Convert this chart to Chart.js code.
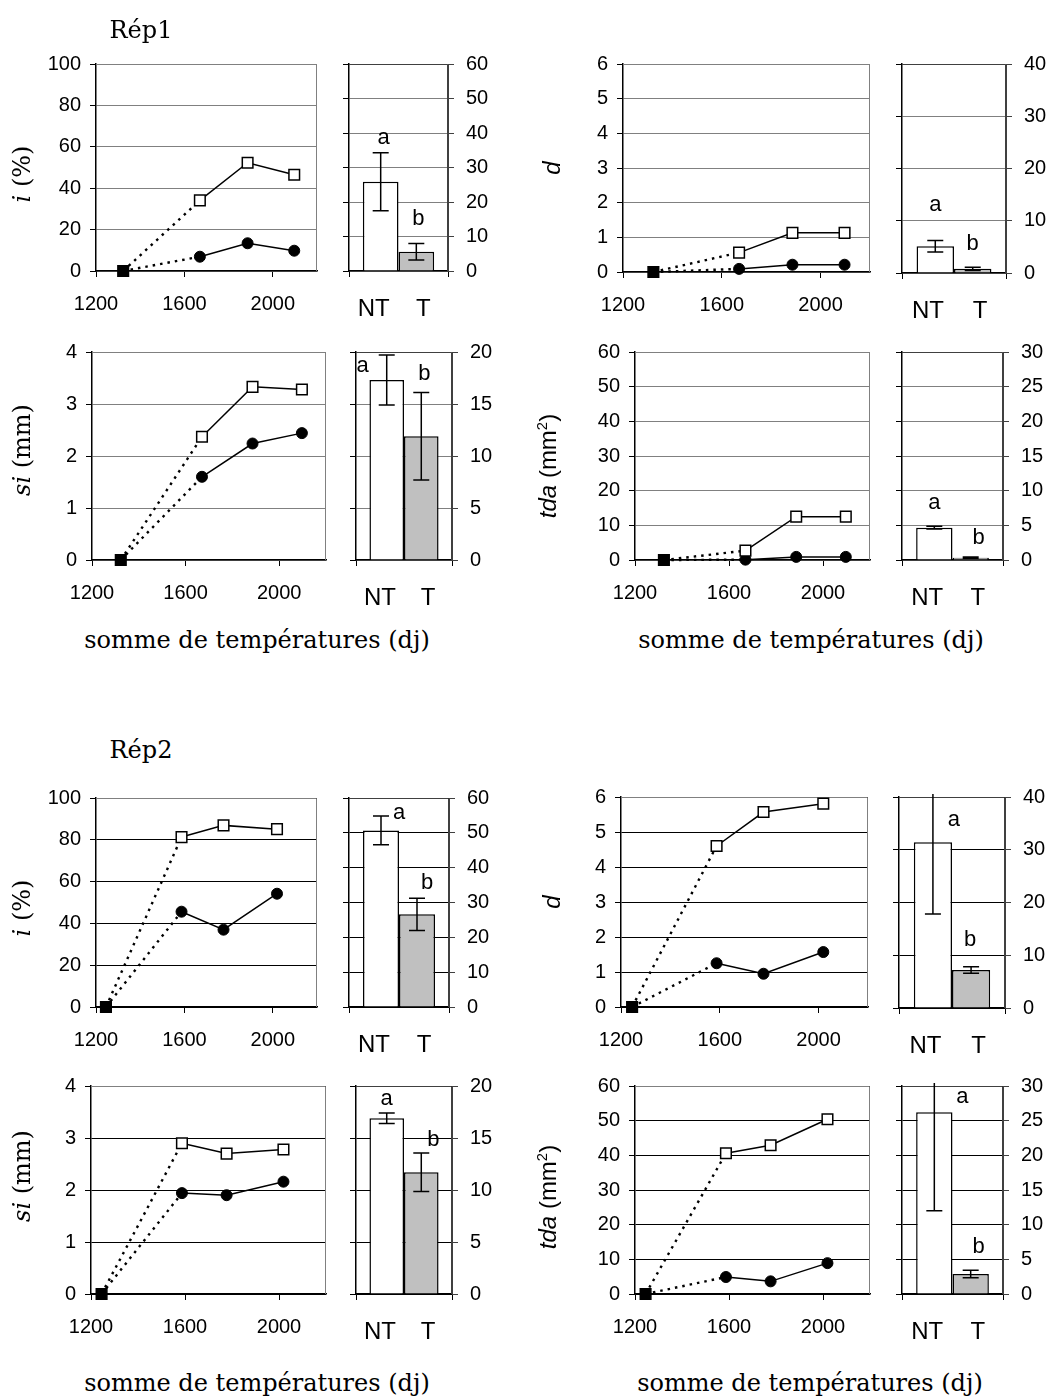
<!DOCTYPE html>
<html>
<head>
<meta charset="utf-8">
<script src="https://cdn.jsdelivr.net/npm/chart.js@4.4.0/dist/chart.umd.min.js"></script>
<style>
body { margin: 0; background: #fff; }
#page { position: relative; width: 1055px; height: 1396px; overflow: hidden; background: #fff; }
canvas { position: absolute; }
.txt { position: absolute; white-space: nowrap; color: #000; transform: translate(-50%, -50%); }
.rot { transform: translate(-50%, -50%) rotate(-90deg); }
.serif { font-family: 'DejaVu Serif', serif; font-size: 24px; }
.sans { font-family: 'Liberation Sans', Arial, sans-serif; font-size: 24px; }
sup { font-size: 0.62em; vertical-align: 0.6em; line-height: 0; }
</style>
</head>
<body>
<div id="page"></div>
<script>
// days (somme de temperatures) for each repetition
const days1 = [1323, 1670, 1886, 2097];
const days2 = [1245, 1587, 1777, 2019];

// Rep1 curves : NT (open squares) and T (filled circles)
const i1NT = [0, 34.1, 52.3, 46.5];
const i1T = [0, 6.9, 13.4, 9.8];
const d1NT = [0, 0.56, 1.13, 1.13];
const d1T = [0, 0.09, 0.21, 0.21];
const si1NT = [0, 2.37, 3.33, 3.28];
const si1T = [0, 1.6, 2.24, 2.44];
const tda1NT = [0, 2.7, 12.5, 12.5];
const tda1T = [0, 0.1, 0.9, 0.9];

// Rep2 curves
const i2NT = [0, 81.3, 86.9, 85.1];
const i2T = [0, 45.6, 37.0, 54.2];
const d2NT = [0, 4.6, 5.57, 5.81];
const d2T = [0, 1.25, 0.95, 1.57];
const si2NT = [0, 2.9, 2.7, 2.78];
const si2T = [0, 1.94, 1.9, 2.16];
const tda2NT = [0, 40.6, 42.9, 50.4];
const tda2T = [0, 4.9, 3.65, 8.9];

// bar panels : [NT, T] means and error
const groups = ['NT', 'T'];
const letters = ['a', 'b'];
const i1Bars = [25.9, 5.6], i1Err = [8.4, 2.4];
const d1Bars = [5.1, 0.8], d1Err = [1.1, 0.3];
const si1Bars = [17.3, 11.9], si1Err = [2.4, 4.2];
const tda1Bars = [4.66, 0.34], tda1Err = [0.2, 0.1];
const i2Bars = [50.7, 26.6], i2Err = [4.1, 4.65];
const d2Bars = [31.4, 7.2], d2Err = [13.6, 0.6];
const si2Bars = [16.9, 11.7], si2Err = [0.5, 1.85];
const tda2Bars = [26.2, 2.88], tda2Err = [14.2, 0.55];

const page = document.getElementById('page');
const tickFont = { family: "'Liberation Sans', Arial, sans-serif", size: 20 };

// plot frame (top + right border)
const frame = {
    id: 'frame',
    beforeDatasetsDraw(chart, args, opts) {
        const a = chart.chartArea, ctx = chart.ctx;
        ctx.save();
        ctx.strokeStyle = opts.color || '#808080';
        ctx.lineWidth = 1;
        ctx.beginPath();
        ctx.moveTo(a.left, a.top + 0.5);
        ctx.lineTo(a.right - 0.5, a.top + 0.5);
        ctx.lineTo(a.right - 0.5, a.bottom);
        ctx.stroke();
        ctx.restore();
    }
};

// error bars + significance letters
const errorBars = {
    id: 'errorBars',
    afterDatasetsDraw(chart, args, opts) {
        const ctx = chart.ctx, y = chart.scales.y, a = chart.chartArea;
        ctx.save();
        ctx.beginPath();
        ctx.rect(a.left, a.top - 3, a.right - a.left, a.bottom - a.top + 3);
        ctx.clip();
        ctx.strokeStyle = '#000';
        ctx.lineWidth = 1.5;
        chart.data.datasets.forEach((ds, i) => {
            const bar = chart.getDatasetMeta(i).data[0];
            const v = ds.data[0], e = ds.err;
            const yt = y.getPixelForValue(v + e), yb = y.getPixelForValue(v - e);
            ctx.beginPath();
            ctx.moveTo(bar.x, yt); ctx.lineTo(bar.x, yb);
            ctx.moveTo(bar.x - 8, yt); ctx.lineTo(bar.x + 8, yt);
            ctx.moveTo(bar.x - 8, yb); ctx.lineTo(bar.x + 8, yb);
            ctx.stroke();
        });
        ctx.restore();
        ctx.save();
        ctx.fillStyle = '#000';
        ctx.font = "22px 'Liberation Sans', Arial, sans-serif";
        ctx.textAlign = 'center';
        ctx.textBaseline = 'middle';
        chart.data.datasets.forEach((ds, i) => {
            const bar = chart.getDatasetMeta(i).data[0];
            const p = opts.pos[i];
            ctx.fillText(ds.letter, bar.x + p[0], y.getPixelForValue(p[1]));
        });
        ctx.restore();
    }
};

function lineChart(p) {
    const padL = 70, padT = 30, padR = 14, padB = 60;
    const [l, r, t, b] = p.line;
    const cv = document.createElement('canvas');
    cv.width = r - l + padL + padR;
    cv.height = b - t + padT + padB;
    cv.style.left = (l - padL) + 'px';
    cv.style.top = (t - padT) + 'px';
    page.appendChild(cv);

    const dotted = {
        borderDash: ctx => ctx.p0DataIndex === 0 ? [2.5, 5] : undefined,
        borderWidth: ctx => ctx.p0DataIndex === 0 ? 2.4 : undefined
    };

    new Chart(cv, {
        type: 'line',
        data: {
            datasets: [{
                data: p.days.map((d, k) => ({ x: d, y: p.nt[k] })),
                borderColor: '#000',
                borderWidth: 1.5,
                pointStyle: 'rect',
                pointRadius: 7.5,
                pointBorderWidth: 1.5,
                pointBorderColor: '#000',
                pointBackgroundColor: p.days.map((d, k) => k === 0 ? '#000' : '#fff'),
                segment: dotted,
                clip: false
            }, {
                data: p.days.map((d, k) => ({ x: d, y: p.t[k] })),
                borderColor: '#000',
                borderWidth: 1.5,
                pointStyle: 'circle',
                pointRadius: p.days.map((d, k) => k === 0 ? 0 : 5.5),
                pointBorderWidth: 1,
                pointBorderColor: '#000',
                pointBackgroundColor: '#000',
                segment: dotted,
                clip: false
            }]
        },
        options: {
            responsive: false,
            animation: false,
            devicePixelRatio: 1,
            layout: { padding: { left: 0, top: padT, right: padR, bottom: 0 } },
            plugins: { legend: { display: false }, tooltip: { enabled: false }, frame: { color: '#808080' } },
            scales: {
                x: {
                    type: 'linear', min: 1200, max: 2200,
                    ticks: { stepSize: 400, includeBounds: false, font: tickFont, color: '#000', padding: 15, maxRotation: 0,
                             callback: v => String(v) },
                    grid: { drawOnChartArea: false, tickLength: 6, tickColor: '#000' },
                    border: { color: '#000', width: 1.5 },
                    afterFit: s => { s.height = padB; }
                },
                y: {
                    min: 0, max: p.ymax,
                    ticks: { stepSize: p.ystep, font: tickFont, color: '#000', padding: 9 },
                    grid: { color: p.grid, tickLength: 6, tickColor: '#000', lineWidth: 1 },
                    border: { color: '#000', width: 1.5 },
                    afterFit: s => { s.width = padL; }
                }
            }
        },
        plugins: [frame]
    });
}

function barChart(p) {
    const padL = 26, padT = 30, padR = 62, padB = 62;
    const [l, r, t, b] = p.bar;
    const cv = document.createElement('canvas');
    cv.width = r - l + padL + padR;
    cv.height = b - t + padT + padB;
    cv.style.left = (l - padL) + 'px';
    cv.style.top = (t - padT) + 'px';
    page.appendChild(cv);

    new Chart(cv, {
        type: 'bar',
        data: {
            labels: [''],
            datasets: [{
                data: [p.bars[0]], err: p.err[0], letter: letters[0],
                backgroundColor: '#fff', borderColor: '#000', borderWidth: 1.5,
                xAxisID: 'x', yAxisID: 'y'
            }, {
                data: [p.bars[1]], err: p.err[1], letter: letters[1],
                backgroundColor: '#c0c0c0', borderColor: '#000', borderWidth: 1.5,
                xAxisID: 'x', yAxisID: 'y'
            }]
        },
        options: {
            responsive: false,
            animation: false,
            devicePixelRatio: 1,
            categoryPercentage: 0.72,
            barPercentage: 1,
            layout: { padding: { left: 0, top: padT, right: 0, bottom: 0 } },
            plugins: {
                legend: { display: false }, tooltip: { enabled: false },
                frame: { color: '#404040' },
                errorBars: { pos: p.letters }
            },
            scales: {
                x: {
                    type: 'category', offset: true, weight: 0,
                    ticks: { display: false },
                    grid: { drawOnChartArea: false, tickLength: 6, tickColor: '#000', offset: true },
                    border: { color: '#000', width: 1.5 },
                    afterFit: s => { s.height = 6; }
                },
                xl: {
                    type: 'category', labels: groups, offset: true, position: 'bottom', weight: 1,
                    ticks: { font: { family: tickFont.family, size: 24 }, color: '#000', padding: 18 },
                    grid: { display: false, drawTicks: false },
                    border: { display: false },
                    afterFit: s => { s.height = padB - 6; }
                },
                y: {
                    position: 'left', min: 0, max: p.bmax,
                    ticks: { display: false, stepSize: p.bstep },
                    grid: { color: p.grid, tickLength: 6, tickColor: '#000' },
                    border: { color: '#000', width: 1.5 },
                    afterFit: s => { s.width = padL; }
                },
                yr: {
                    position: 'right', min: 0, max: p.bmax,
                    ticks: { stepSize: p.bstep, font: tickFont, color: '#000', padding: 12 },
                    grid: { drawOnChartArea: false, tickLength: 6, tickColor: '#404040' },
                    border: { color: '#404040', width: 1 },
                    afterFit: s => { s.width = padR; }
                }
            }
        },
        plugins: [frame, errorBars]
    });
}

const panels = [
    { days: days1, nt: i1NT, t: i1T, ymax: 100, ystep: 20, bars: i1Bars, err: i1Err, bmax: 60, bstep: 10,
      line: [96, 317, 64, 271], bar: [349, 448, 64, 271], grid: '#808080', letters: [[3, 38.5], [2, 15]] },
    { days: days1, nt: d1NT, t: d1T, ymax: 6, ystep: 1, bars: d1Bars, err: d1Err, bmax: 40, bstep: 10,
      line: [623, 870, 64, 272], bar: [902, 1006, 64, 273], grid: '#808080', letters: [[0, 13], [0, 5.6]] },
    { days: days1, nt: si1NT, t: si1T, ymax: 4, ystep: 1, bars: si1Bars, err: si1Err, bmax: 20, bstep: 5,
      line: [92, 326, 352, 560], bar: [356, 452, 352, 560], grid: '#808080', letters: [[-24, 18.65], [3, 17.9]] },
    { days: days1, nt: tda1NT, t: tda1T, ymax: 60, ystep: 10, bars: tda1Bars, err: tda1Err, bmax: 30, bstep: 5,
      line: [635, 870, 352, 560], bar: [902, 1003, 352, 560], grid: '#808080', letters: [[0, 8.2], [8, 3.2]] },
    { days: days2, nt: i2NT, t: i2T, ymax: 100, ystep: 20, bars: i2Bars, err: i2Err, bmax: 60, bstep: 10,
      line: [96, 317, 798, 1007], bar: [349, 449, 798, 1007], grid: '#000', letters: [[18, 55.8], [10, 35.6]] },
    { days: days2, nt: d2NT, t: d2T, ymax: 6, ystep: 1, bars: d2Bars, err: d2Err, bmax: 40, bstep: 10,
      line: [621, 868, 797, 1007], bar: [899, 1005, 797, 1008], grid: '#000', letters: [[21, 35.6], [-1, 12.9]] },
    { days: days2, nt: si2NT, t: si2T, ymax: 4, ystep: 1, bars: si2Bars, err: si2Err, bmax: 20, bstep: 5,
      line: [91, 326, 1086, 1294], bar: [356, 452, 1086, 1294], grid: '#000', letters: [[0, 18.75], [12, 14.8]] },
    { days: days2, nt: tda2NT, t: tda2T, ymax: 60, ystep: 10, bars: tda2Bars, err: tda2Err, bmax: 30, bstep: 5,
      line: [635, 870, 1086, 1294], bar: [902, 1003, 1086, 1294], grid: '#000', letters: [[28, 28.4], [8, 6.8]] }
];

panels.forEach(p => { lineChart(p); barChart(p); });

// texts
const texts = [
    ['serif', 'Rép1', 141, 30, false],
    ['serif', 'Rép2', 141, 750, false],
    ['serif', '<i>i</i> (%)', 22, 174, true],
    ['sans', '<i>d</i>', 552, 168, true],
    ['serif', '<i>si</i> (mm)', 22, 450, true],
    ['sans', '<i>tda</i> (mm<sup>2</sup>)', 548, 466, true],
    ['serif', '<i>i</i> (%)', 22, 908, true],
    ['sans', '<i>d</i>', 552, 902, true],
    ['serif', '<i>si</i> (mm)', 22, 1176, true],
    ['sans', '<i>tda</i> (mm<sup>2</sup>)', 548, 1197, true],
    ['serif', 'somme de températures (dj)', 257, 640, false],
    ['serif', 'somme de températures (dj)', 811, 640, false],
    ['serif', 'somme de températures (dj)', 257, 1383, false],
    ['serif', 'somme de températures (dj)', 810, 1383, false]
];
texts.forEach(([cls, html, x, y, rot]) => {
    const el = document.createElement('div');
    el.className = 'txt ' + cls + (rot ? ' rot' : '');
    el.innerHTML = html;
    el.style.left = x + 'px';
    el.style.top = y + 'px';
    page.appendChild(el);
});
</script>
</body>
</html>
